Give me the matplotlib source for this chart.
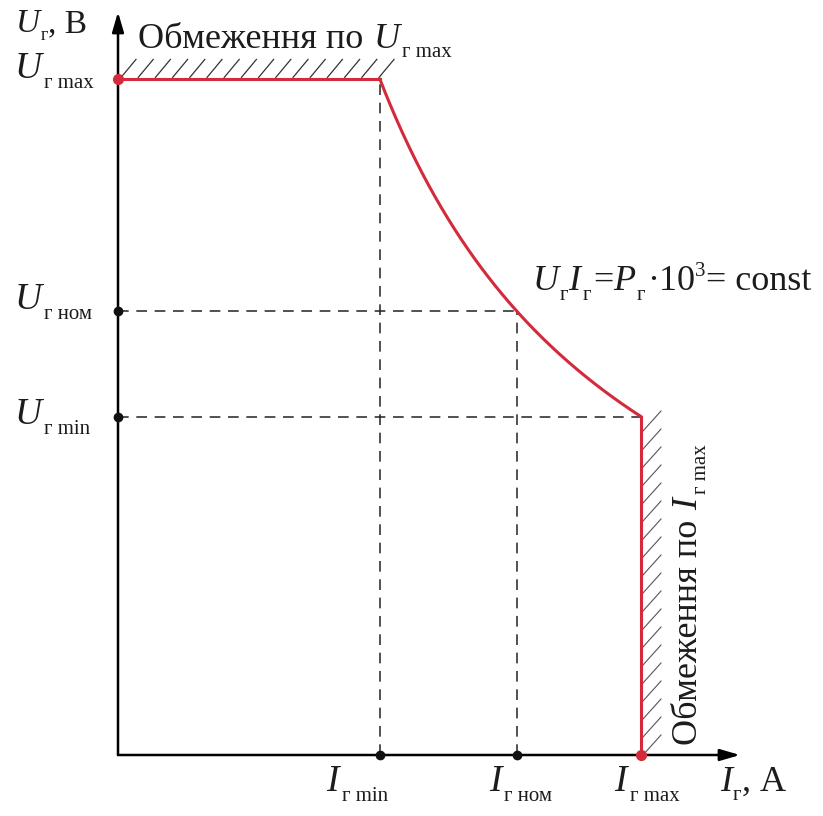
import numpy as np
import matplotlib
matplotlib.use("Agg")
import matplotlib.pyplot as plt

plt.rcParams['font.family'] = ['Liberation Serif', 'DejaVu Serif']

# характерні точки (умовні одиниці)
I_points = [2.62, 3.99, 5.23]          # I_г min, I_г ном, I_г max
P_const = 17.70                        # U_г * I_г = const
U_points = [P_const / i for i in I_points]   # U_г max, U_г ном, U_г min

I_subs = ['г min', 'г ном', 'г max']
U_subs = ['г max', 'г ном', 'г min']

red = '#d42a3c'
ink = '#1c1c1c'

fig = plt.figure(figsize=(8.23, 8.16), dpi=100)
ax = fig.add_axes([0, 0, 1, 1])
ax.set_xlim(-1.18, 8.23 - 1.18)
ax.set_ylim(-0.61, 8.16 - 0.61)
ax.axis('off')
renderer = fig.canvas.get_renderer()


def chain(x, y, pieces, rot=0):
    # pieces: (текст, розмір, курсив, зсув базової лінії, відступ після) ; зсуви в px/100
    for txt, size, italic, dy, gap in pieces:
        style = 'italic' if italic else 'normal'
        if rot == 0:
            t = ax.text(x, y + dy, txt, fontsize=size, style=style, color=ink,
                        ha='left', va='baseline')
            x += t.get_window_extent(renderer).width / 100 + gap
        else:
            t = ax.text(x - dy, y, txt, fontsize=size, style=style, color=ink,
                        rotation=90, rotation_mode='anchor', ha='left', va='baseline')
            y += t.get_window_extent(renderer).height / 100 + gap


# осі зі стрілками
arrow = dict(arrowstyle='-|>,head_length=1.2,head_width=0.35', color='black', lw=1.8,
             shrinkA=0, shrinkB=0)
ax.annotate('', xy=(6.22, 0), xytext=(0, 0), arrowprops=arrow)
ax.annotate('', xy=(0, 7.43), xytext=(0, 0), arrowprops=arrow)

Imin, Inom, Imax = I_points
Umax, Unom, Umin = U_points

# пунктирні лінії
dash = dict(color='#222222', lw=1.1, ls=(0, (7, 5)))
ax.plot([Imin, Imin], [0, Umax], **dash)
ax.plot([0, Inom], [Unom, Unom], **dash)
ax.plot([Inom, Inom], [0, Unom], **dash)
ax.plot([0, Imax], [Umin, Umin], **dash)

# штрихування обмежень
for x in np.arange(0.03, Imin, 0.172):
    ax.plot([x, x + 0.15], [Umax + 0.02, Umax + 0.2], color='#333333', lw=0.9)
for y in np.arange(0.0, Umin, 0.18):
    ax.plot([Imax + 0.02, Imax + 0.2], [y, y + 0.2], color='#555555', lw=0.8)

# робоча характеристика
I_curve = np.linspace(Imin, Imax, 200)
ax.plot([0, Imin], [Umax, Umax], color=red, lw=2.2)
ax.plot(I_curve, P_const / I_curve, color=red, lw=2.2)
ax.plot([Imax, Imax], [Umin, 0], color=red, lw=2.2)

# точки на осях
ax.plot([0, 0], [Unom, Umin], 'o', color='#111111', ms=6, zorder=5)
ax.plot([Imin, Inom], [0, 0], 'o', color='#111111', ms=6, zorder=5)
ax.plot([0, Imax], [Umax, 0], 'o', color=red, ms=7, zorder=5)

fs, fsub = 26, 15

# підписи осей
chain(-1.02, 7.23, [('U', 24, True, 0, 0.01), ('г', 13, False, -0.08, 0.0), (', В', 24, False, 0, 0)])
chain(6.02, -0.36, [('I', fs, True, 0, 0.01), ('г', fsub, False, -0.09, 0.0), (', А', fs, False, 0, 0)])

# рівні напруги
U_base = [Umax + 0.01, Unom + 0.02, Umin - 0.07]
for ub, sub in zip(U_base, U_subs):
    chain(-1.03, ub, [('U', fs + 1, True, 0, 0.02), (sub, fsub, False, -0.10, 0)])

# рівні струму
I_left = [Imin - 0.54, Inom - 0.28, Imax - 0.27]
for il, sub in zip(I_left, I_subs):
    chain(il, -0.36, [('I', fs + 1, True, 0, 0.03), (sub, fsub, False, -0.10, 0)])

chain(0.20, 7.07, [('Обмеження по', fs, False, 0, 0.10), ('U', fs, True, 0, 0.03),
                   ('г max', fsub, False, -0.09, 0)])
chain(4.15, 4.65, [('U', fs, True, 0, 0.01), ('г', fsub, False, -0.10, 0.0),
                   ('I', fs, True, 0, 0.02), ('г', fsub, False, -0.10, 0.02),
                   ('=', fs, False, 0, 0.0), ('P', fs, True, 0, 0.01),
                   ('г', fsub, False, -0.10, 0.02), ('·10', fs, False, 0, 0.0),
                   ('3', fsub, False, 0.14, 0.0), ('= const', fs, False, 0, 0)])
chain(5.79, 0.10, [('Обмеження по', fs, False, 0, 0.10), ('I', fs, True, 0, 0.04),
                   ('г max', fsub, False, -0.09, 0)], rot=90)

fig.savefig('out.png', dpi=100, facecolor='white')
